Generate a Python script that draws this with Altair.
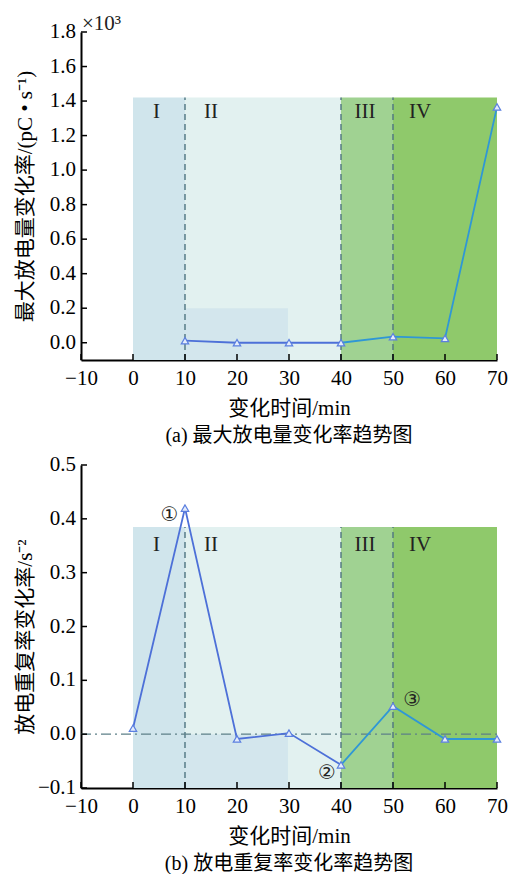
import altair as alt
import pandas as pd

# ---------------- data ----------------
time_top = [10, 20, 30, 40, 50, 60, 70]
max_discharge_rate = [0.012, 0.0, 0.0, 0.0, 0.035, 0.025, 1.366]   # x10^3

time_bot = [0, 10, 20, 30, 40, 50, 60, 70]
repeat_rate_change = [0.011, 0.42, -0.009, 0.002, -0.057, 0.052, -0.009, -0.009]

stage_names = ["I", "II", "III", "IV"]
stage_start = [0, 10, 40, 50]
stage_end = [10, 40, 50, 70]
stage_colors = ["#d0e5ec", "#e2f1f0", "#a0d292", "#8fc96b"]
stage_label_x = [4.5, 15, 44.6, 55.2]
boundaries = [10, 40, 50]

x_ticks = [-10, 0, 10, 20, 30, 40, 50, 60, 70]
y_ticks_top = [0.0, 0.2, 0.4, 0.6, 0.8, 1.0, 1.2, 1.4, 1.6, 1.8]
y_ticks_bot = [-0.1, 0.0, 0.1, 0.2, 0.3, 0.4, 0.5]

annot_text = ["①", "②", "③"]
annot_x = [7.0, 37.3, 53.7]
annot_y = [0.407, -0.072, 0.063]

SERIF = "Liberation Serif, Noto Sans CJK SC"
W = 416
FS = 21


def panel(xs, ys, ydom, yticks, region_top, label_y, ytitle, caption, height,
          shade_top, zero_line=False, annots=False, title_y_shift=0, sci=False):
    xsc = alt.Scale(domain=[-10, 70], nice=False, zero=False)
    ysc = alt.Scale(domain=ydom, nice=False, zero=False)
    ybottom = ydom[0]

    reg = pd.DataFrame({"name": stage_names, "x0": stage_start, "x1": stage_end,
                        "color": stage_colors, "y0": [ybottom] * 4,
                        "y1": [region_top] * 4, "lx": stage_label_x,
                        "ly": [label_y] * 4})
    rects = alt.Chart(reg).mark_rect(opacity=1).encode(
        x=alt.X("x0:Q", scale=xsc,
                axis=alt.Axis(values=x_ticks, tickSize=0, labelPadding=7,
                              title="变化时间/min", titlePadding=9)),
        x2="x1:Q",
        y=alt.Y("y0:Q", scale=ysc,
                axis=alt.Axis(values=yticks, labels=False, tickSize=0,
                              title=ytitle,
                              titleX=-46, titleY=height / 2 + title_y_shift)),
        y2="y1:Q",
        color=alt.Color("color:N", scale=None),
    )

    shade = pd.DataFrame({"x0": [10], "x1": [29.8], "y0": [ybottom], "y1": [shade_top]})
    shade_rect = alt.Chart(shade).mark_rect(color="#d3e6ed").encode(
        x=alt.X("x0:Q", scale=xsc), x2="x1:Q",
        y=alt.Y("y0:Q", scale=ysc), y2="y1:Q")

    labels = alt.Chart(reg).mark_text(font="Liberation Serif", fontSize=FS,
                                      color="#222222").encode(
        x=alt.X("lx:Q", scale=xsc), y=alt.Y("ly:Q", scale=ysc), text="name:N")

    bnd = pd.DataFrame({"x": boundaries, "y0": [ybottom] * 3, "y1": [region_top] * 3})
    vlines = alt.Chart(bnd).mark_rule(strokeDash=[6, 4], strokeWidth=1.4,
                                      color="#4f7580").encode(
        x=alt.X("x:Q", scale=xsc), y=alt.Y("y0:Q", scale=ysc), y2="y1:Q")

    df = pd.DataFrame({"t": xs, "v": ys})
    seg1 = df[df.t <= 40]
    seg2 = df[df.t >= 40]
    line1 = alt.Chart(seg1).mark_line(color="#4d70d8", strokeWidth=1.8).encode(
        x=alt.X("t:Q", scale=xsc), y=alt.Y("v:Q", scale=ysc))
    line2 = alt.Chart(seg2).mark_line(color="#2f97d6", strokeWidth=1.8).encode(
        x=alt.X("t:Q", scale=xsc), y=alt.Y("v:Q", scale=ysc))
    pts = alt.Chart(df).mark_point(shape="triangle-up", size=55, filled=True,
                                   fill="#e4ecfb", stroke="#5b7fe0",
                                   strokeWidth=1.2, opacity=1).encode(
        x=alt.X("t:Q", scale=xsc), y=alt.Y("v:Q", scale=ysc))

    xt = pd.DataFrame({"x": x_ticks})
    xtick = alt.Chart(xt).mark_rule(color="black", strokeWidth=1.5).encode(
        x=alt.X("x:Q", scale=xsc), y=alt.value(height), y2=alt.value(height - 6))
    yt = pd.DataFrame({"y": yticks,
                       "lab": [f"{v:.1f}".replace("-", "\u2212") for v in yticks]})
    ytick = alt.Chart(yt).mark_rule(color="black", strokeWidth=1.5).encode(
        y=alt.Y("y:Q", scale=ysc), x=alt.value(0), x2=alt.value(6))
    ylab = alt.Chart(yt).mark_text(font="Liberation Serif", fontSize=FS,
                                   align="right", baseline="middle", dx=-5,
                                   color="black").encode(
        y=alt.Y("y:Q", scale=ysc), x=alt.value(0), text="lab:N")

    layers = [rects, shade_rect, vlines, labels]
    if zero_line:
        zl = pd.DataFrame({"x0": [-10], "x1": [70], "y": [0.0]})
        layers.append(alt.Chart(zl).mark_rule(strokeDash=[10, 4, 2, 4],
                                              strokeWidth=1.4,
                                              color="#5d8088").encode(
            x=alt.X("x0:Q", scale=xsc), x2="x1:Q", y=alt.Y("y:Q", scale=ysc)))
    layers += [line1, line2, pts, xtick, ytick, ylab]
    if annots:
        an = pd.DataFrame({"x": annot_x, "y": annot_y, "t": annot_text})
        layers.append(alt.Chart(an).mark_text(font="DejaVu Sans", fontSize=20,
                                              color="#222222").encode(
            x=alt.X("x:Q", scale=xsc), y=alt.Y("y:Q", scale=ysc), text="t:N"))
    if sci:
        sc = pd.DataFrame({"x": [-10], "y": [1.8], "t": ["×10³"]})
        layers.append(alt.Chart(sc).mark_text(font="Liberation Serif", fontSize=FS,
                                              align="left", baseline="bottom",
                                              dx=1, dy=2, color="#222222").encode(
            x=alt.X("x:Q", scale=xsc), y=alt.Y("y:Q", scale=ysc), text="t:N"))

    return alt.layer(*layers).properties(
        width=W, height=height,
        title=alt.TitleParams(caption, orient="bottom", font=SERIF, fontSize=20,
                              fontWeight="normal", color="black", offset=8))


top = panel(time_top, max_discharge_rate, [-0.1, 1.8], y_ticks_top, 1.42, 1.337,
            "最大放电量变化率/(pC • s⁻¹)", "(a) 最大放电量变化率趋势图", 328,
            shade_top=0.2, sci=True)
bot = panel(time_bot, repeat_rate_change, [-0.1, 0.5], y_ticks_bot, 0.385, 0.352,
            "放电重复率变化率/s⁻²", "(b) 放电重复率变化率趋势图", 323,
            shade_top=0.0, zero_line=True, annots=True, title_y_shift=10)

chart = alt.vconcat(top, bot, spacing=8).properties(
    padding={"left": 6, "top": 5, "right": 0, "bottom": 0},
    background="white"
).configure_view(stroke=None).configure_axis(
    labelOverlap=False, labelFlush=False, grid=False,
    labelFont="Liberation Serif", labelFontSize=FS, labelColor="black",
    titleFont=SERIF, titleFontSize=21, titleFontWeight="normal",
    titleColor="black", domainColor="black", domainWidth=2, tickSize=0,
)

chart.save("out.html", embed_options={"renderer": "svg", "actions": False})
